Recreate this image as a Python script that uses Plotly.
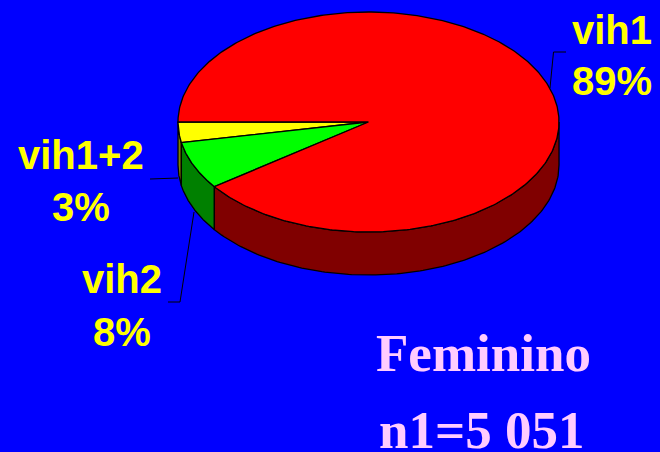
import numpy as np
import plotly.graph_objects as go

categories = ["vih1+2", "vih2", "vih1"]
slice_shares = [3.0, 7.0, 90.0]          # shares as drawn in the picture
percent_labels = ["3%", "8%", "89%"]     # shares as printed on the labels
top_colors = ["#ffff00", "#00ff00", "#ff0000"]
side_colors = ["#808000", "#008000", "#800000"]

title_lines = ["Feminino", "n1=5 051"]

W, H = 660, 452
CX, CY, RX, RY, DEPTH = 368.5, 122, 190.5, 110, 43
START = 180.0
LW = 1.3


def rim(theta):
    return CX + RX * np.cos(theta), CY + RY * np.sin(theta)


fig = go.Figure()
edges = START - np.cumsum([0.0] + slice_shares) * 3.6
spans = []
for i in range(len(categories)):
    spans.append((edges[i], edges[i + 1]))

# sides: only the front half of the rim (0..180 degrees) is visible
for (a, b), col, name in zip(spans, side_colors, categories):
    lo, hi = max(min(a, b), 0), min(max(a, b), 180)
    if hi <= lo:
        continue
    t = np.radians(np.linspace(hi, lo, 160))
    x, y = rim(t)
    fig.add_trace(go.Scatter(
        x=np.r_[x, x[::-1], x[0]], y=np.r_[y, y[::-1] + DEPTH, y[0]],
        mode="lines", fill="toself", fillcolor=col,
        line=dict(color="black", width=LW), hoverinfo="skip", name=name + " side"))

# top faces
for (a, b), col, name in zip(spans, top_colors, categories):
    t = np.radians(np.linspace(a, b, 400))
    x, y = rim(t)
    fig.add_trace(go.Scatter(
        x=np.r_[CX, x, CX], y=np.r_[CY, y, CY],
        mode="lines", fill="toself", fillcolor=col,
        line=dict(color="black", width=LW), name=name))

# leader lines
leaders = [
    ([550, 553.5, 566], [88, 52, 52]),
    ([150, 178], [179, 178]),
    ([194, 180, 168], [212, 302, 302]),
]
for lx, ly in leaders:
    fig.add_trace(go.Scatter(x=lx, y=ly, mode="lines",
                             line=dict(color="black", width=1), hoverinfo="skip"))

label_pos = {"vih1": (612, 30, 612, 81), "vih1+2": (81, 155, 81, 207), "vih2": (122, 279, 122, 332)}
annotations = []
for name, pct in zip(categories, percent_labels):
    x1, y1, x2, y2 = label_pos[name]
    for tx, ty, s in ((x1, y1, name), (x2, y2, pct)):
        annotations.append(dict(x=tx, y=ty, text=s, showarrow=False, xref="x", yref="y",
                                xanchor="center", yanchor="middle",
                                font=dict(family="Liberation Sans", size=40, color="#ffff00", weight="bold")))

for s, tx, ty in zip(title_lines, (483, 481), (353, 430)):
    annotations.append(dict(x=tx, y=ty, text=s, showarrow=False, xref="x", yref="y",
                            xanchor="center", yanchor="middle", height=40, borderpad=0, valign="middle",
                            font=dict(family="Liberation Serif", size=53, color="#ffccff", weight="bold")))

fig.update_layout(
    width=W, height=H, margin=dict(l=0, r=0, t=0, b=0),
    paper_bgcolor="#0000ff", plot_bgcolor="#0000ff", showlegend=False,
    xaxis=dict(range=[0, W], visible=False, fixedrange=True),
    yaxis=dict(range=[H, 0], visible=False, fixedrange=True),
    annotations=annotations,
)
fig.write_html("out.html", config={"displayModeBar": False},
               post_script="document.body.style.margin='0';document.documentElement.style.overflow='hidden';document.body.style.background='#0000ff';")
